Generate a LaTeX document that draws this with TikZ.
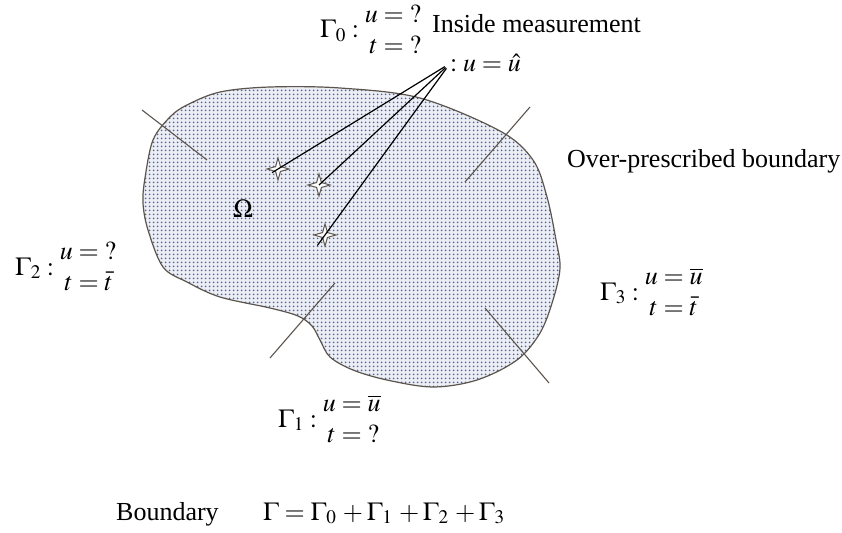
\documentclass[tikz,border=0pt]{standalone}
\usepackage{mathptmx}
\usepackage{fontspec}
\setmainfont{Liberation Serif}
\usepackage{xcolor}
\definecolor{edge}{HTML}{5C554E}
\definecolor{dotblue}{HTML}{4E5E9E}
\definecolor{paleblue}{HTML}{ECEEF6}
\usepackage{tikz}
\usetikzlibrary{shapes.geometric, patterns.meta}

\tikzdeclarepattern{
  name=omegadots, type=uncolored,
  bounding box={(0,0) and (4pt,4pt)},
  tile size={(4pt,4pt)},
  code={\fill (2pt,2pt) circle (1.15pt);}
}

\tikzset{
  bc/.style={inner sep=0pt, anchor=base west},
  tick/.style={draw=edge, line width=1.1pt},
  probe/.style={star, star points=4, star point ratio=3.2, minimum size=22pt,
                inner sep=0pt, draw=edge, fill=white, line width=1pt},
  probe line/.style={draw=black, line width=1.2pt, shorten <=6pt}
}

\newcommand{\bcond}[2]{\begin{array}{@{}r@{}l@{}}#1\\#2\end{array}}

\begin{document}
\begin{tikzpicture}[x=1pt, y=-1pt, font=\fontsize{26}{31}\selectfont]
  \useasboundingbox (0,0) rectangle (842,532);

  % domain
  \path[fill=paleblue,
        postaction={pattern=omegadots, pattern color=dotblue},
        postaction={draw=edge, line width=1.2pt}]
    plot[smooth cycle, tension=0.55] coordinates {
      (270,87) (340,88) (420,98) (500,131) (533,160) (547,197) (556,240)
      (560,268) (553,300) (540,333) (517,360) (477,380) (433,387) (387,380)
      (353,370) (330,357) (320,340) (312,326) (298,316) (270,308) (220,297)
      (187,282) (163,267) (148,230) (143,203) (145,178) (153,140) (170,117)
      (187,105) (220,92)};

  \draw[tick] (142,110) -- (207,160);
  \draw[tick] (270,358) -- (335,283);
  \draw[tick] (530,107) -- (465,182);
  \draw[tick] (485,308) -- (549,383);

  \node[probe] (s1) at (278,169) {};
  \node[probe] (s2) at (319,185) {};
  \node[probe] (s3) at (325,235) {};

  \node[bc] (g0) at (320,38) {$\Gamma_0 :\bcond{u&{}={?}}{t&{}={?}}$};
  \node[bc] (inside) at (432,33) {Inside measurement};
  \node[bc] (meas) at (450,72) {$: u=\hat{u}$};
  \node[bc] (over) at (567,167) {Over-prescribed boundary};
  \node[bc] (omega) at (233,217) {$\Omega$};
  \node[bc] (g2) at (15,275) {$\Gamma_2 :\bcond{u&{}={?}}{t&{}=\bar{t}}$};
  \node[bc] (g3) at (600,300) {$\Gamma_3 :\bcond{u&{}=\overline{u}}{t&{}=\bar{t}}$};
  \node[bc] (g1) at (278,427) {$\Gamma_1 :\bcond{u&{}=\overline{u}}{t&{}={?}}$};
  \node[bc] (bnd) at (116,520) {Boundary};
  \node[bc] (total) at (263,520) {$\Gamma=\Gamma_0\,+\Gamma_1\,+\Gamma_2\,+\Gamma_3$};

  \draw[probe line, shorten >=-7pt] (meas.west) -- (s1.center);
  \draw[probe line] (meas.west) -- (s2.center);
  \draw[probe line, shorten >=-13pt] (meas.west) -- (s3.center);
\end{tikzpicture}
\end{document}
